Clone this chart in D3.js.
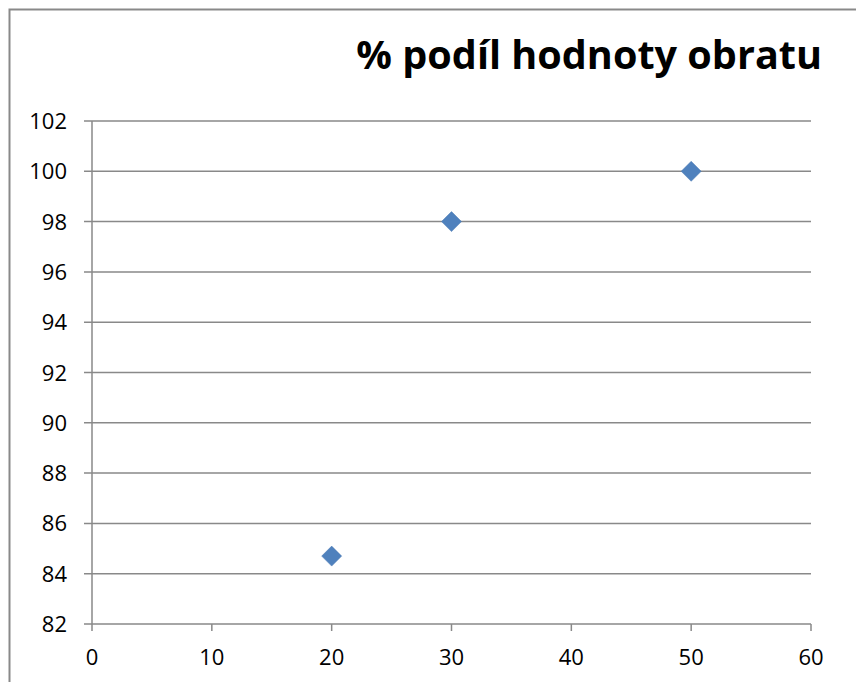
<!DOCTYPE html>
<html>
<head>
<meta charset="utf-8">
<script src="https://cdn.jsdelivr.net/npm/d3@7"></script>
<style>
  body { margin: 0; background: #fff; }
  text { font-family: "Open Sans", sans-serif; fill: #000; }
</style>
</head>
<body>
<div class="chart"></div>
<script>
// data
const xValues = [20, 30, 50];
const yValues = [84.7, 98, 100];
const xTicks = [0, 10, 20, 30, 40, 50, 60];
const yTicks = [82, 84, 86, 88, 90, 92, 94, 96, 98, 100, 102];
const title = '% podíl hodnoty obratu';

const width = 856, height = 682;

const svg = d3.select('.chart')
    .append('svg')
    .attr('width', width)
    .attr('height', height);

// outer frame (right and bottom run off the picture)
svg.append('path')
    .attr('d', `M9.5,${height} V9.5 H${width}`)
    .attr('fill', 'none')
    .attr('stroke', '#898989')
    .attr('stroke-width', 2);

const x = d3.scaleLinear().domain([0, 60]).range([92, 811]);
const y = d3.scaleLinear().domain([82, 102]).range([624, 121]);

// horizontal grid
svg.append('g')
    .selectAll('line')
    .data(yTicks)
    .join('line')
    .attr('x1', 84)
    .attr('x2', x(60))
    .attr('y1', d => y(d))
    .attr('y2', d => y(d))
    .attr('stroke', '#898989')
    .attr('stroke-width', 1.5);

// y axis line
svg.append('line')
    .attr('x1', x(0)).attr('x2', x(0))
    .attr('y1', y(102)).attr('y2', y(82))
    .attr('stroke', '#898989')
    .attr('stroke-width', 1.5);

// x ticks
svg.append('g')
    .selectAll('line')
    .data(xTicks)
    .join('line')
    .attr('x1', d => x(d))
    .attr('x2', d => x(d))
    .attr('y1', y(82))
    .attr('y2', y(82) + 7)
    .attr('stroke', '#898989')
    .attr('stroke-width', 1.5);

// y labels
svg.append('g')
    .selectAll('text')
    .data(yTicks)
    .join('text')
    .attr('x', 67)
    .attr('y', d => y(d) + 8)
    .attr('text-anchor', 'end')
    .attr('font-size', 22)
    .text(d => d);

// x labels
svg.append('g')
    .selectAll('text')
    .data(xTicks)
    .join('text')
    .attr('x', d => x(d))
    .attr('y', 665)
    .attr('text-anchor', 'middle')
    .attr('font-size', 22)
    .text(d => d);

// markers
svg.append('g')
    .selectAll('path')
    .data(xValues.map((v, i) => [v, yValues[i]]))
    .join('path')
    .attr('d', d3.symbol(d3.symbolSquare, 200))
    .attr('transform', d => `translate(${x(d[0])},${y(d[1])}) rotate(45)`)
    .attr('fill', '#4f81bd')
    .attr('stroke', '#4a7ab3')
    .attr('stroke-width', 0.5);

// title
svg.append('text')
    .attr('x', 822)
    .attr('y', 69)
    .attr('text-anchor', 'end')
    .attr('font-size', 39.6)
    .attr('font-weight', 'bold')
    .text(title);
</script>
</body>
</html>
